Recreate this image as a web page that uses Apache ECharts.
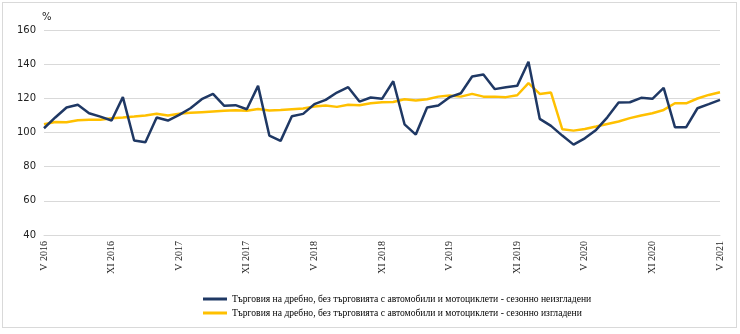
<!DOCTYPE html>
<html><head><meta charset="utf-8">
<script src="https://cdn.jsdelivr.net/npm/echarts@6/dist/echarts.min.js"></script>
<style>
html,body{margin:0;padding:0;background:#fff;}
#frame{position:absolute;left:2px;top:2px;width:735px;height:326px;border:1px solid #d9d9d9;box-sizing:border-box;}
#c{position:absolute;left:0;top:0;width:740px;height:334px;}
</style></head>
<body>
<div id="frame"></div>
<div id="c"></div>
<script>
const romans = ['I','II','III','IV','V','VI','VII','VIII','IX','X','XI','XII'];
const categories = [];
for (let k = 0; k < 61; k++) {
  const m = (4 + k) % 12;
  const y = 2016 + Math.floor((4 + k) / 12);
  categories.push(romans[m] + ' ' + y);
}
const seriesNames = [
  'Търговия на дребно, без търговията с автомобили и мотоциклети - сезонно неизгладени',
  'Търговия на дребно, без търговията с автомобили и мотоциклети - сезонно изгладени'
];
const unadjusted = [
  102.5,108.8,114.6,116.2,111.3,109.3,107.0,120.7,95.3,94.3,108.8,107.0,
  110.3,114.2,119.5,122.6,115.6,116.0,113.6,127.3,98.2,95.1,109.5,110.9,
  116.6,119.1,123.4,126.5,118.1,120.5,119.7,130.0,104.8,98.8,114.6,115.8,
  120.7,123.0,132.8,133.9,125.4,126.5,127.3,141.4,108.0,103.9,98.2,92.9,
  96.6,101.5,108.9,117.5,117.7,120.3,119.7,126.1,103.1,103.1,114.2,116.6,119.1
];
const adjusted = [
  104.8,106.2,106.0,107.2,107.4,107.4,108.4,108.8,109.3,110.0,111.0,110.0,
  111.0,111.5,111.9,112.3,112.7,113.0,112.7,113.8,112.9,113.2,113.6,114.0,
  115.2,115.8,115.0,116.2,116.0,117.1,117.7,117.9,119.5,118.7,119.5,121.0,
  121.6,121.0,122.6,121.0,121.0,120.7,121.8,128.9,122.6,123.4,101.9,101.1,
  102.1,103.5,105.0,106.4,108.4,110.0,111.3,113.2,117.1,117.1,119.9,122.0,123.6
];
const chart = echarts.init(document.getElementById('c'));
chart.setOption({
  animation: false,
  backgroundColor: 'transparent',
  grid: {left: 44, right: 20, top: 30, bottom: 99, containLabel: false},
  legend: {
    orient: 'vertical', left: 198, top: 289, itemGap: 4,
    itemWidth: 24, itemHeight: 3, icon: 'rect',
    textStyle: {fontFamily: 'Liberation Serif', fontSize: 9.6, color: '#000'},
    data: seriesNames
  },
  xAxis: {
    type: 'category', data: categories, boundaryGap: false,
    axisLine: {lineStyle: {color: '#d9d9d9'}},
    axisTick: {show: false},
    axisLabel: {
      interval: (i) => i % 6 === 0, rotate: 90, margin: 6,
      fontFamily: 'Liberation Serif', fontSize: 10, color: '#222'
    }
  },
  yAxis: {
    type: 'value', min: 40, max: 160, interval: 20,
    name: '%', nameLocation: 'end', nameGap: 8,
    nameTextStyle: {fontFamily: 'DejaVu Sans', fontSize: 10, color: '#222', align: 'left', padding: [0,0,0,-2]},
    axisLine: {show: false}, axisTick: {show: false},
    axisLabel: {fontFamily: 'DejaVu Sans', fontSize: 10, color: '#222', margin: 8},
    splitLine: {lineStyle: {color: '#d9d9d9'}}
  },
  series: [
    {name: seriesNames[0], type: 'line', data: unadjusted, showSymbol: false,
     lineStyle: {color: '#1f3864', width: 2.5}, itemStyle: {color: '#1f3864'}, z: 3},
    {name: seriesNames[1], type: 'line', data: adjusted, showSymbol: false,
     lineStyle: {color: '#ffc000', width: 2.5}, itemStyle: {color: '#ffc000'}, z: 2}
  ]
});
</script>
</body></html>
